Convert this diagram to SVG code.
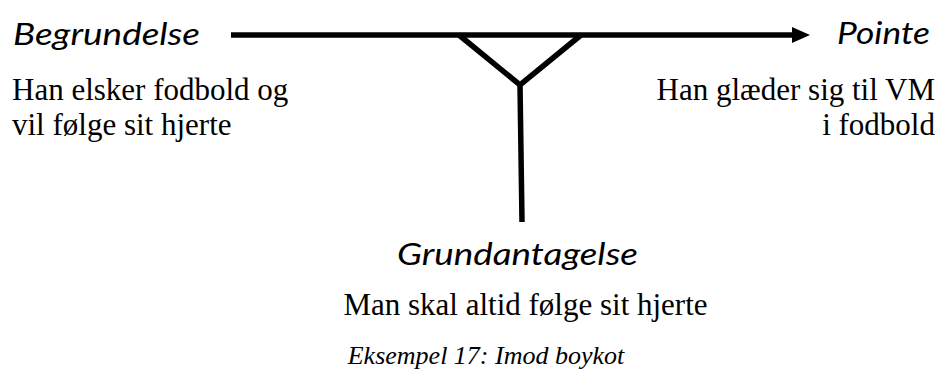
<svg xmlns="http://www.w3.org/2000/svg" width="941" height="381" viewBox="0 0 941 381">
  <style>
    .head { font-family: Lato, "Open Sans", "Liberation Sans", sans-serif; font-style: italic; font-size: 30px; fill: #000; }
    .body { font-family: "Liberation Serif", "Times New Roman", serif; font-size: 31px; fill: #000; }
    .cap { font-family: "Liberation Serif", "Times New Roman", serif; font-style: italic; font-size: 26px; fill: #000; }
    .ln { stroke: #000; stroke-width: 5.5; fill: none; stroke-linejoin: miter; }
  </style>
  <defs>
    <marker id="arrow" viewBox="0 0 18 16" refX="0" refY="8" markerWidth="18" markerHeight="16" markerUnits="userSpaceOnUse" orient="auto">
      <path d="M0,0 L18,8 L0,16 Z" fill="#000"/>
    </marker>
  </defs>
  <rect width="941" height="381" fill="#fff"/>
  <g id="connectors">
    <path class="ln" d="M231,35 H792" marker-end="url(#arrow)"/>
    <path class="ln" d="M459,35 L520,85 L581,35"/>
    <path class="ln" d="M520,85 L522,222"/>
  </g>
  <g id="begrundelse">
    <text class="head" x="13" y="45" textLength="187" lengthAdjust="spacingAndGlyphs">Begrundelse</text>
    <text class="body" x="12" y="100">Han elsker fodbold og</text>
    <text class="body" x="12" y="135">vil følge sit hjerte</text>
  </g>
  <g id="pointe">
    <text class="head" x="837" y="44" textLength="93" lengthAdjust="spacingAndGlyphs">Pointe</text>
    <text class="body" x="935" y="100" text-anchor="end">Han glæder sig til VM</text>
    <text class="body" x="935" y="135" text-anchor="end">i fodbold</text>
  </g>
  <g id="grundantagelse">
    <text class="head" x="397" y="265" textLength="241" lengthAdjust="spacingAndGlyphs">Grundantagelse</text>
    <text class="body" x="525.5" y="315" text-anchor="middle">Man skal altid følge sit hjerte</text>
  </g>
  <g id="caption">
    <text class="cap" x="486" y="364" text-anchor="middle">Eksempel 17: Imod boykot</text>
  </g>
</svg>
